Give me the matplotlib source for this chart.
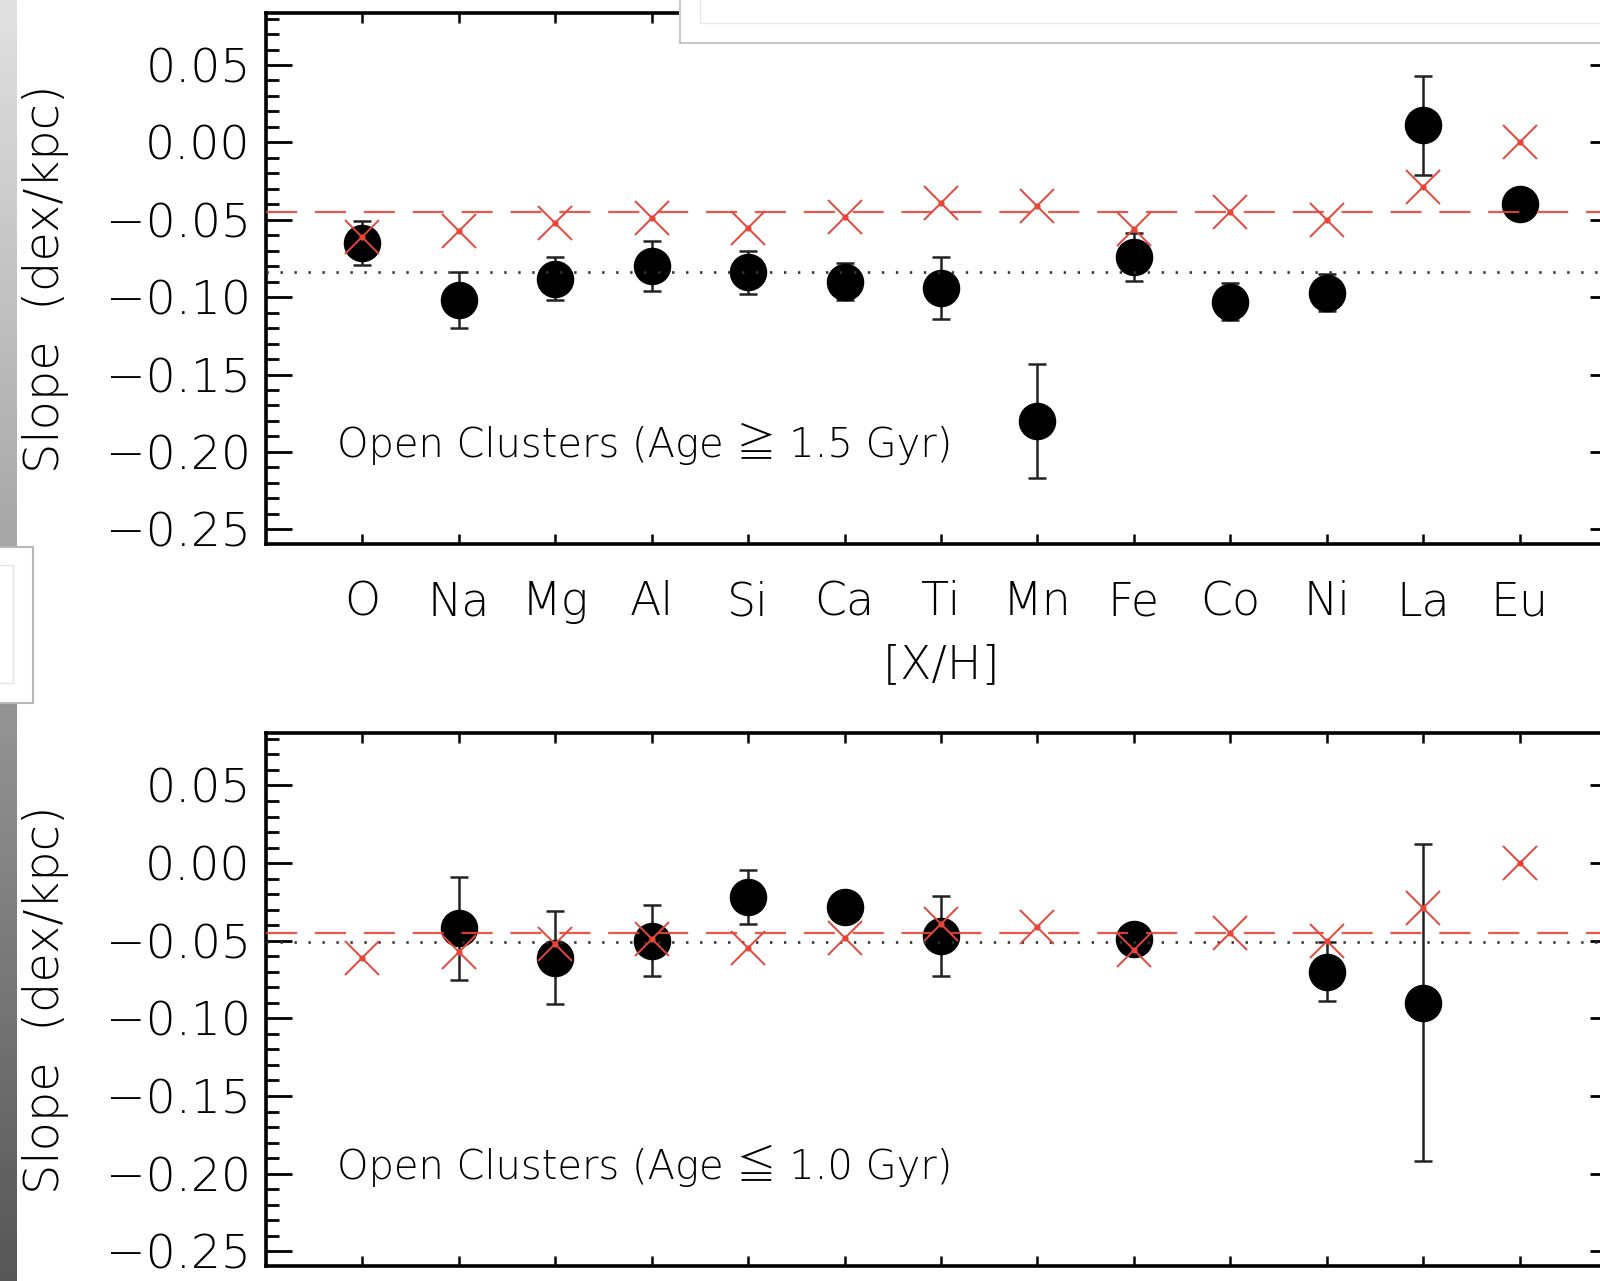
import numpy as np
import matplotlib
matplotlib.use("Agg")
import matplotlib.pyplot as plt
from matplotlib.ticker import MultipleLocator, FuncFormatter
from matplotlib.patches import Rectangle

nan = np.nan

# Radial abundance gradients per element
elements = ['O', 'Na', 'Mg', 'Al', 'Si', 'Ca', 'Ti', 'Mn', 'Fe', 'Co', 'Ni', 'La', 'Eu']

# Open clusters, Age >= 1.5 Gyr
old_slope = [-0.065, -0.102, -0.088, -0.080, -0.084, -0.090, -0.094, -0.180, -0.074, -0.103, -0.097, 0.011, -0.040]
old_err = [0.014, 0.018, 0.014, 0.016, 0.014, 0.012, 0.020, 0.037, 0.0155, 0.012, 0.012, 0.032, 0.004]
old_mean = -0.084

# Open clusters, Age <= 1.0 Gyr
young_slope = [nan, -0.042, -0.061, -0.050, -0.022, -0.028, -0.047, nan, -0.049, nan, -0.070, -0.090, nan]
young_err = [nan, 0.033, 0.030, 0.023, 0.0175, 0.008, 0.026, nan, 0.008, nan, 0.019, 0.102, nan]
young_mean = -0.051

# Comparison gradients (red crosses) and their mean
ref_slope = [-0.061, -0.057, -0.052, -0.049, -0.055, -0.048, -0.039, -0.041, -0.056, -0.045, -0.050, -0.029, 0.000]
ref_mean = -0.045

panel_text = ['Open Clusters (Age \u2267 1.5 Gyr)', 'Open Clusters (Age \u2266 1.0 Gyr)']

RED = '#e8453a'
W, H = 1600, 1281
FAMILY = ['DejaVu Sans', 'Noto Sans CJK JP']
plt.rcParams['font.family'] = FAMILY
plt.rcParams['font.weight'] = 'light'
plt.rcParams['axes.labelweight'] = 'light'
fig = plt.figure(figsize=(W / 100, H / 100), dpi=100)


def fx(px):
    return px / W


def fy(py):
    return 1 - py / H


left, right = 266, 1616
panels = [(12.7, 544), (733, 1266)]
xpos = np.arange(1, len(elements) + 1)


def fmt(v, _):
    s = f'{v:.2f}'
    if s == '-0.00':
        s = '0.00'
    return s.replace('-', '\u2212')


for i, (top, bot) in enumerate(panels):
    ax = fig.add_axes([fx(left), fy(bot), fx(right - left), (bot - top) / H])
    slope = old_slope if i == 0 else young_slope
    err = old_err if i == 0 else young_err
    mean = old_mean if i == 0 else young_mean

    ax.errorbar(xpos, slope, yerr=err, fmt='o', color='black', ms=26,
                ecolor='#222222', elinewidth=1.8, capsize=6.5, capthick=1.8, zorder=3)
    ax.axhline(mean, color='#333333', lw=1.9, ls=(0, (0.9, 4.4)), zorder=4)
    ax.axhline(ref_mean, color=RED, lw=1.6, ls=(0, (14, 8)), zorder=5, alpha=0.9)
    ax.plot(xpos, ref_slope, ls='none', marker='x', ms=25, mew=1.4, color=RED, zorder=6)
    ax.plot(xpos, ref_slope, ls='none', marker='o', ms=4.5, mew=0, color=RED, zorder=6)

    ax.set_xlim(0, 14)
    ax.set_ylim(-0.2595, 0.0838)
    ax.yaxis.set_major_locator(MultipleLocator(0.05))
    ax.yaxis.set_minor_locator(MultipleLocator(0.01))
    ax.yaxis.set_major_formatter(FuncFormatter(fmt))
    ax.set_xticks(xpos)
    ax.tick_params(axis='y', which='major', direction='in', length=18.5, width=2.0,
                   left=True, right=True, labelsize=34, pad=11)
    ax.tick_params(axis='y', which='minor', direction='in', length=9.3, width=2.0,
                   left=True, right=True)
    ax.tick_params(axis='x', which='major', direction='in', length=7.5, width=1.8,
                   top=True, bottom=True, labelsize=33, pad=26)
    for sp in ax.spines.values():
        sp.set_linewidth(2.6)
    if i == 0:
        ax.set_xticklabels(elements)
        ax.set_xlabel('[X/H]', fontsize=33, labelpad=14, fontweight='light')
    else:
        ax.set_xticklabels([])
    ax.set_ylabel('Slope  (dex/kpc)', fontsize=34.5, fontweight='light')
    ax.yaxis.label.set_va('center')
    ax.yaxis.label.set_ha('center')
    ax.yaxis.set_label_coords((46 - left) / (right - left), 0.5)
    ax.text(0.74, -0.195, panel_text[i], fontsize=28.8, ha='left', va='center',
            family=FAMILY, fontweight='light')

# window decorations around the plot area
ov = fig.add_axes([0, 0, 1, 1], zorder=20)
ov.set_axis_off()
ov.patch.set_alpha(0)
grad = np.linspace(0.88, 0.34, 256)[:, None]
ov.imshow(grad, extent=[0, 16.5, H, 0], cmap='gray', vmin=0, vmax=1, aspect='auto')
ov.add_patch(Rectangle((-10, 547), 43, 156, facecolor='white', edgecolor='#b8b8b8', lw=1.5))
ov.add_patch(Rectangle((-10, 565), 23, 118, facecolor='white', edgecolor='#e4e4e4', lw=1.0))
ov.add_patch(Rectangle((680, -10), 1000, 53, facecolor='white', edgecolor='#c8c8c8', lw=1.5))
ov.add_patch(Rectangle((700, -10), 1000, 33, facecolor='white', edgecolor='#e6e6e6', lw=1.0))
ov.set_xlim(0, W)
ov.set_ylim(H, 0)

fig.savefig('out.png', dpi=100)
